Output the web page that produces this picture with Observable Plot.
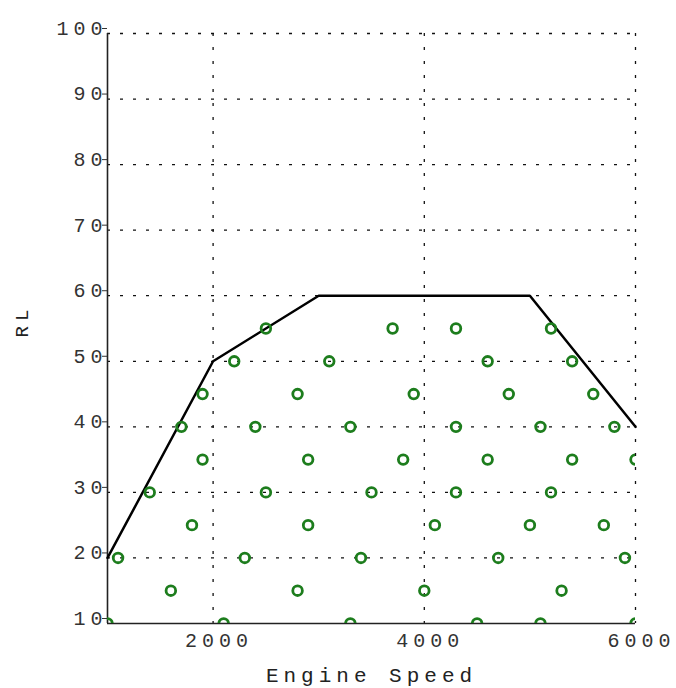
<!DOCTYPE html>
<html>
<head>
<meta charset="utf-8">
<script src="https://cdn.jsdelivr.net/npm/d3@7"></script>
<script src="https://cdn.jsdelivr.net/npm/@observablehq/plot@0.6"></script>
<style>
  html, body { margin: 0; padding: 0; background: #fff; }
  #chart svg text { letter-spacing: 5px; }
</style>
</head>
<body>
<div id="chart"></div>
<script>
// Boundary line (engine speed vs RL)
const limitSpeed = [1000, 2000, 3000, 5000, 6000];
const limitRL    = [20, 50, 60, 60, 40];

// Operating points, grouped by RL row
const pointRL = [55, 50, 45, 40, 35, 30, 25, 20, 15, 10];
const pointSpeeds = [
  [2500, 3700, 4300, 5200],
  [2200, 3100, 4600, 5400],
  [1900, 2800, 3900, 4800, 5600],
  [1700, 2400, 3300, 4300, 5100, 5800],
  [1900, 2900, 3800, 4600, 5400, 6000],
  [1400, 2500, 3500, 4300, 5200],
  [1800, 2900, 4100, 5000, 5700],
  [1100, 2300, 3400, 4700, 5900],
  [1600, 2800, 4000, 5300],
  [1000, 2100, 3300, 4500, 5100, 6000]
];

const xTicks = [2000, 4000, 6000];
const yTicks = [10, 20, 30, 40, 50, 60, 70, 80, 90, 100];
const yGrid  = [20, 30, 40, 50, 60, 70, 80, 90, 100];

const limit = limitSpeed.map((s, i) => ({speed: s, rl: limitRL[i]}));
const points = pointRL.flatMap((rl, i) => pointSpeeds[i].map(s => ({speed: s, rl})));

const chart = Plot.plot({
  width: 676,
  height: 688,
  marginLeft: 107,
  marginRight: 41,
  marginTop: 33,
  marginBottom: 65,
  style: {fontFamily: "'Liberation Mono', 'DejaVu Sans Mono', monospace", background: "#fff"},
  x: {domain: [1000, 6000]},
  y: {domain: [10, 100]},
  marks: [
    Plot.ruleY(yGrid, {stroke: "#111", strokeWidth: 1.3, strokeDasharray: "3,10"}),
    Plot.ruleX(xTicks, {stroke: "#111", strokeWidth: 1.3, strokeDasharray: "3,11"}),
    Plot.ruleX([1000], {stroke: "#222", strokeWidth: 1.6}),
    Plot.ruleY([10], {stroke: "#222", strokeWidth: 1.6}),
    Plot.axisY({ticks: yTicks, tickSize: 5, tickPadding: -5, dy: -5, fontSize: 20, fill: "#333", stroke: "#333", label: null}),
    Plot.axisX({ticks: xTicks, tickFormat: d3.format("d"), tickSize: 0, tickPadding: 9, dx: 6, fontSize: 20, fill: "#333", label: null}),
    Plot.text(["Engine Speed"], {frameAnchor: "bottom", dy: 58, fontSize: 21, fill: "#222"}),
    Plot.text(["RL"], {frameAnchor: "left", dx: -86, dy: 9, rotate: -90, fontSize: 19, fill: "#222"}),
    Plot.line(limit, {x: "speed", y: "rl", stroke: "#000", strokeWidth: 2.5}),
    Plot.dot(points, {x: "speed", y: "rl", r: 4.8, stroke: "#1d7d1d", strokeWidth: 2.8, fill: "none", clip: true})
  ]
});
document.getElementById("chart").appendChild(chart);
</script>
</body>
</html>
